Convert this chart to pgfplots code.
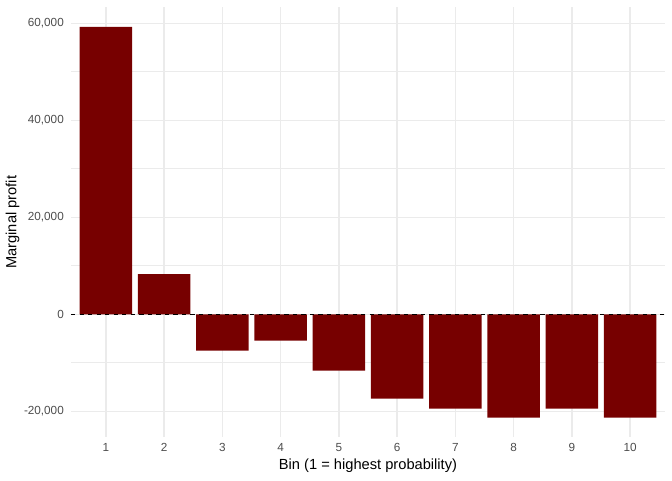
\documentclass[border=0pt]{standalone}
\usepackage{fontspec}
\setmainfont{Liberation Sans}
\usepackage{pgfplots}
\pgfplotsset{compat=1.18}
\definecolor{barred}{RGB}{119,0,0}
\definecolor{gridgrey}{RGB}{235,235,235}
\definecolor{ticktext}{RGB}{77,77,77}
\begin{document}
\begin{tikzpicture}
\useasboundingbox (0,0) rectangle (504pt,360pt);
\begin{axis}[
  at={(53.25pt,32.1pt)}, anchor=south west,
  scale only axis, width=445.5pt, height=322.3pt,
  xmin=0.4, xmax=10.6, ymin=-25350, ymax=63265,
  axis line style={draw=none},
  xtick={1,2,3,4,5,6,7,8,9,10},
  xticklabels={1,2,3,4,5,6,7,8,9,10},
  ytick={-20000,0,20000,40000,60000},
  yticklabels={{-20,000},{0},{20,000},{40,000},{60,000}},
  minor ytick={-10000,10000,30000,50000},
  major tick length=0pt, minor tick length=0pt,
  ymajorgrids=true, yminorgrids=true, xmajorgrids=true,
  major grid style={gridgrey, line width=1.07pt},
  minor grid style={gridgrey, line width=0.53pt},
  tick label style={font=\fontsize{8.8}{10}\selectfont, text=ticktext, inner sep=0pt},
  yticklabel style={anchor=east, xshift=-5.2pt},
  xticklabel style={anchor=north, yshift=-4.4pt},
  xlabel={Bin (1 = highest probability)},
  ylabel={Marginal profit},
  label style={font=\fontsize{11}{13}\selectfont, text=black, inner sep=0pt},
  xlabel style={at={(axis description cs:0.5,-0.0763)}, anchor=base},
  ylabel style={at={(axis description cs:-0.0918,0.5)}, anchor=base},
]
\addplot[ybar, bar width=0.9, fill=barred, draw=none] coordinates {
  (1,59240) (2,8300) (3,-7500) (4,-5440) (5,-11630)
  (6,-17400) (7,-19470) (8,-21320) (9,-19470) (10,-21320)
};
\addplot[black, line width=1pt, dash pattern=on 3.2pt off 3.2pt, forget plot] coordinates {(0.4,0) (10.6,0)};
\end{axis}
\end{tikzpicture}
\end{document}
